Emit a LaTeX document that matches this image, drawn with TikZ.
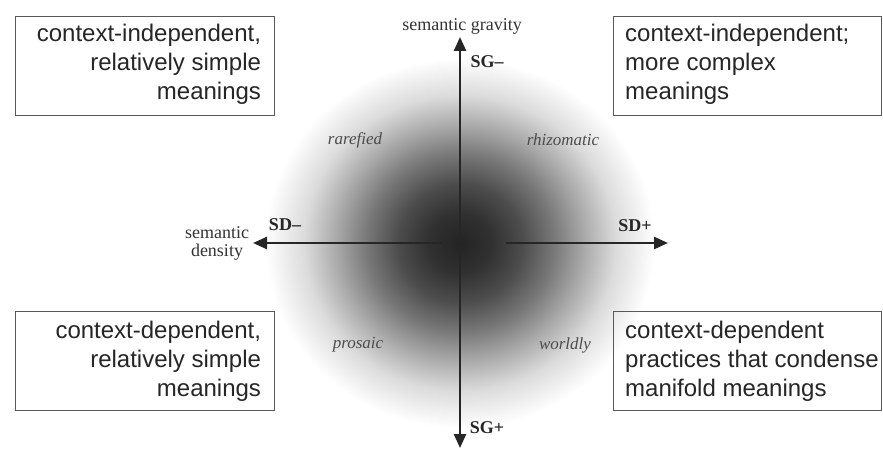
\documentclass[tikz,border=0pt]{standalone}
\usepackage{fontspec}
\setmainfont{Liberation Serif}
\setsansfont{Liberation Sans}
\usetikzlibrary{arrows.meta}
\pgfdeclareradialshading{blob}{\pgfpoint{0bp}{0bp}}{color(0bp)=(black!86); color(4bp)=(black!81); color(8bp)=(black!70); color(12bp)=(black!53); color(16bp)=(black!33); color(20bp)=(black!14); color(25bp)=(white); color(50bp)=(white)}
\begin{document}
\begin{tikzpicture}[x=1pt,y=-1pt,
  frame/.style={draw=black!65, line width=1.2pt, minimum height=99pt,
    anchor=north west, inner sep=0pt},
  lbox/.style={frame, minimum width=259pt},
  rbox/.style={frame, minimum width=268pt},
  btext/.style={text=black!85, font=\sffamily\fontsize{24}{29}\selectfont, inner sep=0pt},
  ltext/.style={btext, align=right, anchor=east},
  rtext/.style={btext, align=left, anchor=west},
  axis/.style={line width=2.4pt, draw=black!85, -{Triangle[length=14pt,width=12pt]}},
  axlab/.style={font=\bfseries\fontsize{18}{19}\selectfont, text=black!85},
  dimlab/.style={font=\fontsize{18}{18}\selectfont, text=black!80, align=center},
  qlab/.style={font=\itshape\fontsize{17}{18}\selectfont, text=black!70}]
\useasboundingbox[fill=white] (0,0) rectangle (883,452);

% shaded centre
\shade[shading=blob] (460,243) ellipse [x radius=195pt, y radius=185pt];

% boxes
\node[lbox] (tl) at (15,16) {};
\node[ltext] (tlt) at ([xshift=-14pt,yshift=2pt]tl.east) {context-independent,\\ relatively simple\\ meanings};
\node[rbox] (tr) at (613,16) {};
\node[rtext] (trt) at ([xshift=12pt,yshift=2pt]tr.west) {context-independent;\\ more complex\\ meanings};
\node[lbox] (bl) at (15,311) {};
\node[ltext] (blt) at ([xshift=-14pt]bl.east) {context-dependent,\\ relatively simple\\ meanings};
\node[rbox] (br) at (613,311) {};
\node[rtext] (brt) at ([xshift=12pt]br.west) {context-dependent\\ practices that condense\\ manifold meanings};

% axes
\coordinate (O) at (460,243);
\coordinate (N) at (460,37);
\coordinate (S) at (460,448);
\coordinate (W) at (253,243);
\coordinate (E) at (668,243);
\coordinate (Wi) at (442,243);
\coordinate (Ei) at (506,243);
\draw[axis] (O) -- (N);
\draw[axis] (O) -- (S);
\draw[axis] (Wi) -- (W);
\draw[axis] (Ei) -- (E);

% axis labels
\node[dimlab] (sg) at (462,26) {semantic gravity};
\node[dimlab] (sd) at (217,243) {semantic\\density};
\node[axlab] (sgm) at (487,62) {SG\textendash};
\node[axlab] (sgp) at (487,428) {SG+};
\node[axlab] (sdm) at (285,225) {SD\textendash};
\node[axlab] (sdp) at (635,226) {SD+};

% quadrant labels
\node[qlab] (q1) at (355,140) {rarefied};
\node[qlab] (q2) at (563,140) {rhizomatic};
\node[qlab] (q3) at (358,345) {prosaic};
\node[qlab] (q4) at (565,345) {worldly};
\end{tikzpicture}
\end{document}
